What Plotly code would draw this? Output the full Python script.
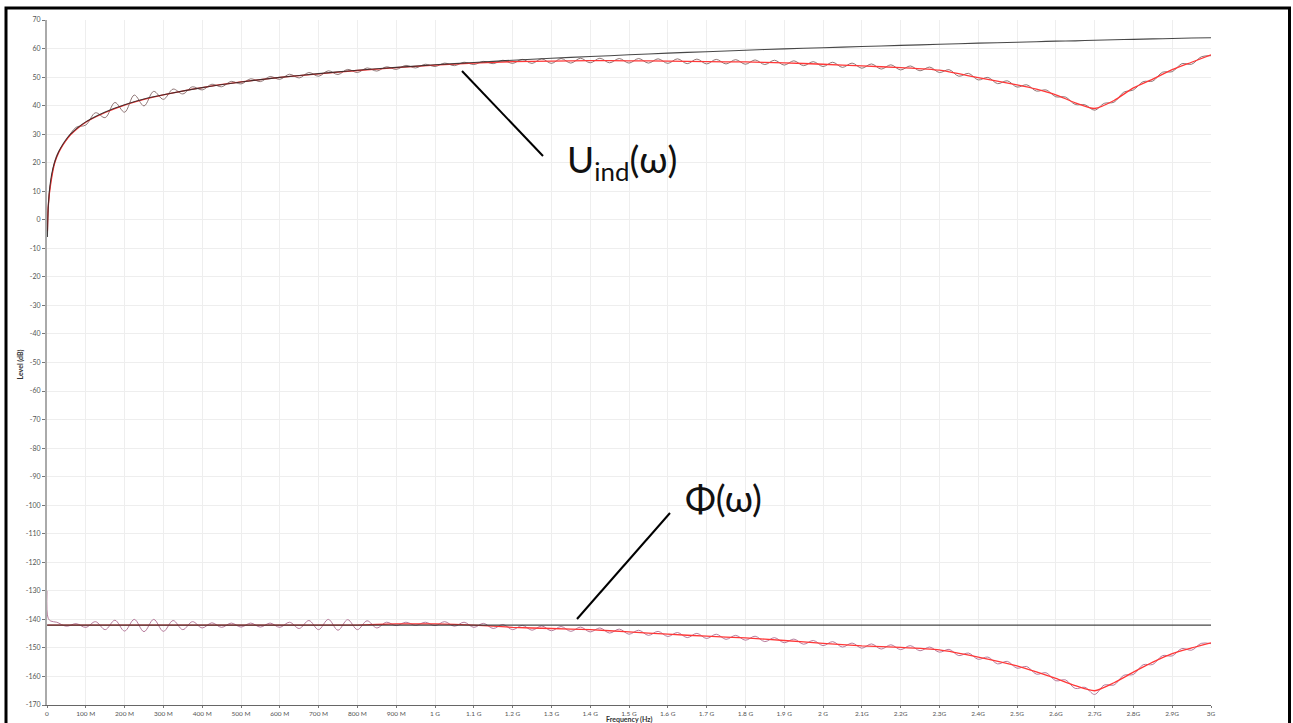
import plotly.graph_objects as go

# ---------------- data (frequencies in MHz, levels in dB) ----------------
freq_smooth = [1, 3, 6, 10, 15, 20, 30, 40, 50, 60, 80, 100, 125, 150, 200, 250, 300, 400,
               500, 600, 700, 800, 900, 1000, 1100, 1200, 1300, 1400, 1500, 1600, 1700, 1800,
               1900, 2000, 2100, 2200, 2300, 2400, 2500, 2550, 2600, 2650, 2700, 2750, 2800,
               2850, 2900, 2950, 3000]

u_ideal = [-6.0, 3.8, 9.9, 14.3, 17.8, 20.3, 23.8, 26.3, 28.3, 29.9, 32.4, 34.3, 36.2, 37.8,
           40.3, 42.3, 43.8, 46.3, 48.3, 49.9, 51.2, 52.4, 53.4, 54.3, 55.1, 55.9, 56.6, 57.2,
           57.8, 58.4, 58.9, 59.4, 59.9, 60.3, 60.7, 61.1, 61.5, 61.9, 62.2, 62.4, 62.6, 62.7,
           62.9, 63.1, 63.2, 63.4, 63.5, 63.7, 63.8]

u_fit = [-4.0, 4.0, 9.0, 13.0, 17.0, 20.0, 23.5, 26.0, 28.0, 29.7, 32.2, 34.2, 36.0, 37.6,
         40.2, 42.2, 43.8, 46.3, 48.3, 49.9, 51.1, 52.3, 53.3, 54.2, 54.9, 55.4, 55.6, 55.8,
         55.7, 55.6, 55.4, 55.3, 55.0, 54.5, 53.9, 53.3, 52.4, 49.8, 47.3, 45.8, 43.8, 41.0,
         39.0, 41.8, 46.2, 49.3, 52.6, 55.2, 57.8]

phi_fit = [-142.0, -142.0, -142.0, -142.0, -142.0, -142.0, -142.0, -142.0, -142.0, -142.0,
           -142.0, -142.0, -142.0, -142.0, -142.0, -142.0, -142.0, -142.0, -142.0, -142.0,
           -142.0, -142.0, -141.6, -141.6, -142.0, -142.8, -143.2, -143.6, -144.4, -145.2,
           -145.9, -146.5, -147.4, -148.4, -149.3, -149.8, -150.7, -153.2, -156.3, -158.4,
           -160.7, -163.2, -165.0, -162.2, -158.5, -155.0, -152.0, -150.0, -148.2]

freq_phi_ideal = [0, 3000]
phi_ideal = [-142.0, -142.0]

freq_meas = [0, 3, 10, 25, 50, 75, 100, 125, 150, 175, 200, 225, 250, 275, 300, 325, 350, 375, 400,
             425, 450, 475, 500, 525, 550, 575, 600, 625, 650, 675, 700, 725, 750, 775, 800,
             825, 850, 875, 900, 925, 950, 975, 1000, 1025, 1050, 1075, 1100, 1125, 1150, 1175,
             1200, 1225, 1250, 1275, 1300, 1325, 1350, 1375, 1400, 1425, 1450, 1475, 1500, 1525,
             1550, 1575, 1600, 1625, 1650, 1675, 1700, 1725, 1750, 1775, 1800, 1825, 1850, 1875,
             1900, 1925, 1950, 1975, 2000, 2025, 2050, 2075, 2100, 2125, 2150, 2175, 2200, 2225,
             2250, 2275, 2300, 2325, 2350, 2375, 2400, 2425, 2450, 2475, 2500, 2525, 2550, 2575,
             2600, 2625, 2650, 2675, 2700, 2725, 2750, 2775, 2800, 2825, 2850, 2875, 2900, 2925,
             2950, 2975, 3000]

u_meas = [-6.0, 4.0, 13.5, 22.6, 27.9, 32.4, 33.2, 37.5, 35.8, 41.1, 37.7, 43.7, 39.9, 45.0, 42.2, 45.8,
          44.1, 46.6, 45.5, 47.5, 46.6, 48.5, 47.6, 49.4, 48.4, 50.2, 49.2, 51.0, 49.7, 51.6,
          50.3, 52.2, 50.9, 52.7, 51.6, 53.2, 52.1, 53.6, 52.7, 54.1, 53.2, 54.5, 53.7, 54.9,
          54.0, 55.2, 54.4, 55.5, 54.7, 55.9, 54.8, 56.2, 54.8, 56.4, 54.8, 56.5, 54.9, 56.6,
          55.0, 56.6, 55.0, 56.5, 54.9, 56.5, 54.9, 56.4, 54.8, 56.4, 54.7, 56.3, 54.6, 56.2,
          54.6, 56.1, 54.5, 56.0, 54.4, 55.9, 54.2, 55.7, 54.0, 55.4, 53.7, 55.2, 53.4, 54.9,
          53.1, 54.6, 52.8, 54.3, 52.5, 53.9, 52.2, 53.5, 51.6, 52.6, 50.3, 51.3, 49.0, 49.9,
          47.7, 48.7, 46.5, 47.3, 45.1, 45.5, 43.1, 43.0, 40.4, 40.3, 38.4, 40.8, 41.2, 44.7,
          45.5, 48.4, 48.6, 51.7, 51.9, 54.7, 54.5, 57.1, 57.5]

phi_meas = [-130.0, -139.6, -140.6, -141.0, -142.4, -141.5, -142.8, -140.8, -143.6, -140.3, -144.1, -140.0,
            -144.3, -140.0, -144.2, -140.4, -143.6, -140.8, -143.0, -141.2, -142.8, -141.3,
            -142.7, -141.3, -142.7, -141.3, -142.8, -141.0, -143.2, -140.4, -143.6, -140.0,
            -143.8, -140.1, -143.6, -140.5, -143.0, -141.0, -142.2, -141.0, -142.1, -141.0,
            -142.2, -140.8, -142.4, -141.0, -142.8, -141.4, -143.2, -141.8, -143.6, -142.1,
            -143.8, -142.3, -144.0, -142.5, -144.2, -142.7, -144.4, -143.0, -144.8, -143.4,
            -145.2, -143.8, -145.6, -144.2, -146.0, -144.6, -146.4, -144.9, -146.7, -145.2,
            -147.0, -145.6, -147.3, -145.9, -147.8, -146.4, -148.2, -146.9, -148.7, -147.4,
            -149.2, -147.8, -149.7, -148.3, -150.1, -148.6, -150.4, -148.9, -150.6, -149.2,
            -151.0, -149.7, -151.5, -150.5, -152.7, -151.8, -154.0, -153.2, -155.6, -154.7,
            -157.1, -156.5, -159.2, -158.7, -161.5, -161.2, -164.2, -163.8, -166.3, -163.0,
            -163.0, -159.6, -159.3, -155.9, -155.8, -152.7, -152.8, -150.2, -150.8, -148.4,
            -148.5]

x_tick_vals = list(range(0, 3001, 100))
x_tick_text = ["0", "100 M", "200 M", "300 M", "400 M", "500 M", "600 M", "700 M", "800 M",
               "900 M", "1 G", "1.1 G", "1.2 G", "1.3 G", "1.4 G", "1.5 G", "1.6 G", "1.7 G",
               "1.8 G", "1.9 G", "2 G", "2.1G", "2.2G", "2.3G", "2.4G", "2.5G", "2.6G", "2.7G",
               "2.8G", "2.9G", "3G"]
y_tick_vals = list(range(-170, 71, 10))
y_tick_text = [str(v) for v in y_tick_vals]

# ---------------- figure ----------------
W, H = 1293, 723
L, R, T, B = 47, 82, 20, 18
pw, ph = W - L - R, H - T - B

def px(xp):
    return (xp - L) / pw

def py(yp):
    return (H - B - yp) / ph

fig = go.Figure()

meas_upper_col = "rgba(125,95,95,0.85)"
meas_lower_col = "rgba(175,110,145,0.9)"
fit_col = "rgb(255,55,55)"

fig.add_trace(go.Scatter(x=freq_meas, y=u_meas, mode="lines", line=dict(color=meas_upper_col, width=1, shape="spline", smoothing=1.0), hoverinfo="skip"))
fig.add_trace(go.Scatter(x=freq_meas, y=phi_meas, mode="lines", line=dict(color=meas_lower_col, width=1, shape="spline", smoothing=1.0), hoverinfo="skip"))
fig.add_trace(go.Scatter(x=freq_smooth, y=u_fit, mode="lines", line=dict(color=fit_col, width=1.3, shape="spline", smoothing=0.6), hoverinfo="skip"))
fig.add_trace(go.Scatter(x=freq_smooth, y=phi_fit, mode="lines", line=dict(color=fit_col, width=1.3, shape="spline", smoothing=0.6), hoverinfo="skip"))
fig.add_trace(go.Scatter(x=freq_smooth, y=u_ideal, mode="lines", line=dict(color="rgba(40,40,40,0.85)", width=1.1, shape="spline", smoothing=0.6), hoverinfo="skip"))
fig.add_trace(go.Scatter(x=freq_phi_ideal, y=phi_ideal, mode="lines", line=dict(color="rgba(50,50,50,0.9)", width=1.1), hoverinfo="skip"))

x_tick_font = dict(family="Lato, sans-serif", size=6.5, color="#555555")
y_tick_font = dict(family="Lato, sans-serif", size=7, color="#555555")

fig.update_xaxes(range=[0, 3000], tickvals=x_tick_vals, ticktext=x_tick_text,
                 tickfont=x_tick_font, showgrid=True, gridcolor="#eeeeee", gridwidth=1,
                 showline=True, linecolor="#666666", linewidth=1, ticks="outside",
                 ticklen=2, tickcolor="#777777", zeroline=False, fixedrange=True,
                 automargin=False)
fig.update_yaxes(range=[-170, 70], tickvals=y_tick_vals, ticktext=y_tick_text,
                 tickfont=y_tick_font, showgrid=True, gridcolor="#eeeeee", gridwidth=1,
                 showline=True, linecolor="#aaaaaa", linewidth=2, ticks="outside",
                 ticklen=3, tickcolor="#777777", zeroline=False, fixedrange=True,
                 automargin=False)

annotations = [
    dict(text="<b>Level (dB)</b>", x=px(20.5), y=py(365), xref="paper", yref="paper",
         xanchor="center", yanchor="middle",
         showarrow=False, textangle=-90, font=dict(family="Lato, sans-serif", size=7, color="#333333")),
    dict(text="<b>Frequency (Hz)</b>", x=px(629), y=py(719), xref="paper", yref="paper",
         xanchor="center", yanchor="middle",
         showarrow=False, font=dict(family="Lato, sans-serif", size=7, color="#333333")),
    dict(text="U<sub>ind</sub>(\u03c9)", x=px(565), y=py(162), xref="paper", yref="paper",
         xanchor="left", yanchor="middle", showarrow=False,
         font=dict(family="Lato, sans-serif", size=37, color="#111111")),
    dict(text="\u03a6(\u03c9)", x=px(683), y=py(497), xref="paper", yref="paper",
         xanchor="left", yanchor="middle", showarrow=False,
         font=dict(family="Lato, sans-serif", size=37, color="#111111")),
]

shapes = [
    dict(type="line", xref="paper", yref="paper", x0=px(462), y0=py(71), x1=px(543), y1=py(156),
         line=dict(color="#000000", width=2)),
    dict(type="line", xref="paper", yref="paper", x0=px(670), y0=py(513), x1=px(577), y1=py(619),
         line=dict(color="#000000", width=2)),
    dict(type="rect", xref="paper", yref="paper", x0=px(6), y0=py(740), x1=px(1289.5), y1=py(8),
         line=dict(color="#000000", width=3), fillcolor="rgba(0,0,0,0)", layer="above"),
]

fig.update_layout(width=W, height=H, margin=dict(l=L, r=R, t=T, b=B, pad=0, autoexpand=False),
                  paper_bgcolor="white", plot_bgcolor="white", showlegend=False,
                  annotations=annotations, shapes=shapes)

fig.write_html("out.html", include_plotlyjs=True, config={"displayModeBar": False},
               post_script="document.body.style.margin='0px';document.body.style.overflow='hidden';")
